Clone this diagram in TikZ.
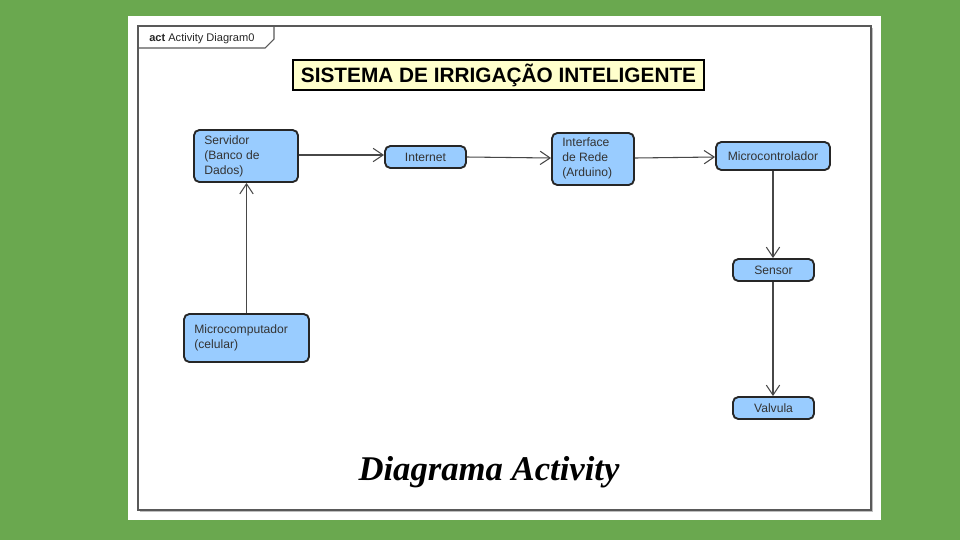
\documentclass[tikz,border=0pt]{standalone}
\usepackage{fontspec}
\setmainfont{Liberation Sans}
\newfontfamily\scriptf{Liberation Serif}
\usetikzlibrary{arrows.meta}
\definecolor{bggreen}{HTML}{6AA84F}
\definecolor{nodeblue}{HTML}{99CCFF}
\definecolor{titleyel}{HTML}{FFFFCC}
\definecolor{txt}{HTML}{333333}
\tikzset{
  box/.style={draw=black!85, line width=1.4pt, fill=nodeblue, rounded corners=4pt, text=txt, font=\fontsize{9.1}{11.3}\selectfont, inner sep=0pt},
  lbl/.style={text=txt, font=\fontsize{9.1}{11.3}\selectfont, align=left, inner sep=0pt},
  flow/.style={draw=black!72, line width=0.8pt, -{Straight Barb[length=7.5pt,width=10pt,line width=0.8pt]}},
}
\begin{document}
\begin{tikzpicture}[x=0.75pt,y=-0.75pt]
\useasboundingbox (0,0) rectangle (960,540);
\fill[bggreen] (0,0) rectangle (960,540);
\fill[white] (128,16) rectangle (881,520);
% frame shadow
\draw[gray!50, line width=1.2pt] (140,511.5) -- (872.5,511.5) -- (872.5,28);
\draw[black!65, line width=0.8pt] (138,26) rectangle (871,510);
% tab
\draw[black!65, line width=0.8pt] (138,48) -- (265,48) -- (274,39) -- (274,26);
\node[anchor=west, text=black!85, font=\fontsize{8.3}{10}\selectfont, inner sep=0pt] (tab) at (149,39) {\textbf{act} Activity Diagram0};
% title
\node[draw=black, line width=1.5pt, fill=titleyel, minimum width=411*0.75pt, minimum height=30*0.75pt, inner sep=0pt, font=\bfseries\fontsize{15.6}{18}\selectfont] (title) at (498.5,75) {SISTEMA DE IRRIGAÇÃO INTELIGENTE};
% nodes
\node[box, minimum width=104*0.75pt, minimum height=52*0.75pt] (serv) at (246,156) {};
\node[lbl, anchor=north west] at (204,135) {Servidor\\(Banco de\\Dados)};
\node[box, minimum width=81*0.75pt, minimum height=22*0.75pt] (inet) at (425.5,157) {Internet};
\node[box, minimum width=82*0.75pt, minimum height=52*0.75pt] (iface) at (593,159) {};
\node[lbl, anchor=north west] at (562,137) {Interface\\de Rede\\(Arduino)};
\node[box, minimum width=114*0.75pt, minimum height=28*0.75pt] (mcu) at (773,156) {Microcontrolador};
\node[box, minimum width=81*0.75pt, minimum height=22*0.75pt] (sens) at (773.5,270) {Sensor};
\node[box, minimum width=81*0.75pt, minimum height=22*0.75pt] (valv) at (773.5,408) {Valvula};
\node[box, minimum width=125*0.75pt, minimum height=48*0.75pt] (mpc) at (246.5,338) {};
\node[lbl, anchor=west] at (194,338) {Microcomputador\\(celular)};
% connectors
\draw[flow] (serv.east |- 0,155) -- (inet.west |- 0,155);
\draw[flow] (inet.east) -- (iface.west |- 0,158);
\draw[flow] (iface.east |- 0,158) -- (mcu.west |- 0,157);
\draw[flow] (mcu.south) -- (sens.north -| mcu.south);
\draw[flow] (sens.south -| mcu.south) -- (valv.north -| mcu.south);
\draw[flow] (mpc.north) -- (serv.south -| mpc.north);
% footer
\node[font=\scriptf\bfseries\itshape\fontsize{26}{30}\selectfont] (foot) at (489,472) {Diagrama Activity};
\end{tikzpicture}
\end{document}
